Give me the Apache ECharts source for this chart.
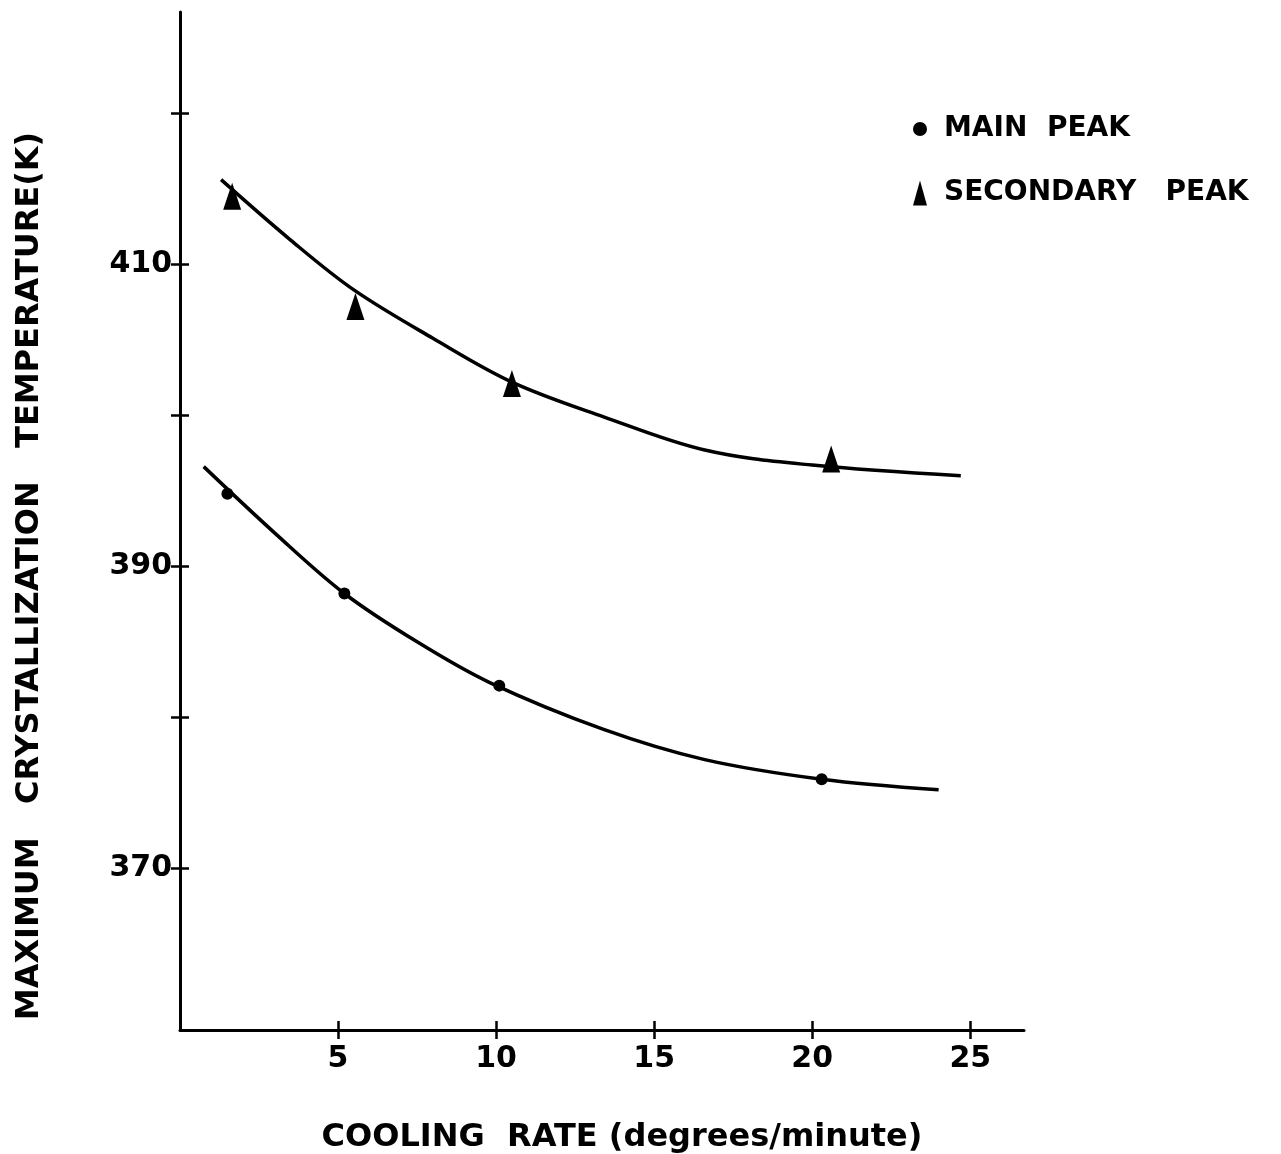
<!DOCTYPE html>
<html>
<head>
<meta charset="utf-8">
<title>Crystallization temperature vs cooling rate</title>
<style>
html,body{margin:0;padding:0;background:#fff;}
#chart{width:1281px;height:1154px;}
</style>
</head>
<body>
<div id="chart"></div>
<script src="https://cdn.jsdelivr.net/npm/echarts@6/dist/echarts.min.js"></script>
<script>
// measured points
var mainX = [1.5, 5.2, 10.1, 20.3];
var mainY = [394.8, 388.2, 382.1, 375.9];
var secX = [1.65, 5.55, 10.5, 20.6];
var secY = [414.5, 407.2, 402.1, 397.1];
// hand drawn fit curves
var mainCurveX = [0.75, 3.0, 5.2, 7.5, 9.8, 13.4, 16.6, 20.3, 24.0];
var mainCurveY = [396.6, 392.2, 388.2, 385.0, 382.3, 379.2, 377.2, 375.9, 375.2];
var secCurveX = [1.3, 3.5, 5.5, 8.0, 10.5, 13.4, 16.6, 20.0, 24.7];
var secCurveY = [415.6, 411.6, 408.3, 405.1, 402.2, 399.9, 397.7, 396.7, 396.0];
var xTicks = [5, 10, 15, 20, 25];
var yTicks = [370, 380, 390, 400, 410, 420];
var yLabels = [370, 390, 410];

function pairs(xs, ys){
    var out = [];
    for (var i = 0; i < xs.length; i++) out.push([xs[i], ys[i]]);
    return out;
}

var font = '"DejaVu Sans", Verdana, sans-serif';
var chart = echarts.init(document.getElementById('chart'));

var W = 1281, H = 1154;
var gridBox = {left: 180, right: 257, top: 12, bottom: 124, containLabel: false, outerBoundsMode: 'none'};
var plotW = W - gridBox.left - gridBox.right;
var plotH = H - gridBox.top - gridBox.bottom;
var tickStyle = {width: 2.5, color: '#000'};
var labelStyle = {color: '#000', fontFamily: font, fontWeight: 'bold', fontSize: 30};

chart.setOption({
    animation: false,
    backgroundColor: '#fff',
    grid: gridBox,
    legend: {
        orient: 'vertical',
        left: 908,
        top: 110,
        itemGap: 36,
        itemWidth: 14,
        itemHeight: 25,
        textStyle: {fontFamily: font, fontWeight: 'bold', fontSize: 28, color: '#000', padding: [0, 0, 0, 12]},
        data: [
            {name: 'MAIN  PEAK', icon: 'circle', itemStyle: {color: '#000', opacity: 1}},
            {name: 'SECONDARY   PEAK', icon: 'triangle', itemStyle: {color: '#000', opacity: 1}}
        ]
    },
    xAxis: [{
        type: 'value', min: 0, max: 26.7,
        axisLine: {show: true, onZero: false, lineStyle: {color: '#000', width: 3}},
        splitLine: {show: false},
        axisTick: {length: 9, lineStyle: tickStyle, customValues: xTicks},
        axisLabel: Object.assign({customValues: xTicks, margin: 14}, labelStyle),
        name: 'COOLING  RATE (degrees/minute)',
        nameLocation: 'middle',
        nameGap: 92,
        nameTextStyle: {color: '#000', fontFamily: font, fontWeight: 'bold', fontSize: 32, padding: [0, 0, 0, 40]}
    }, {
        // upper half of the cross ticks: a top axis pulled down onto the bottom edge
        type: 'value', min: 0, max: 26.7, position: 'top', offset: -plotH,
        axisLine: {show: false, onZero: false},
        splitLine: {show: false},
        axisTick: {show: true, length: 9, lineStyle: tickStyle, customValues: xTicks},
        axisLabel: {show: false}
    }],
    yAxis: [{
        type: 'value', min: 359.3, max: 426.7,
        axisLine: {show: true, onZero: false, lineStyle: {color: '#000', width: 3}},
        splitLine: {show: false},
        axisTick: {length: 9, lineStyle: tickStyle, customValues: yTicks},
        axisLabel: Object.assign({customValues: yLabels, margin: 8}, labelStyle),
        name: 'MAXIMUM   CRYSTALLIZATION   TEMPERATURE(K)',
        nameLocation: 'middle',
        nameGap: 134,
        nameRotate: 90,
        nameTextStyle: {color: '#000', fontFamily: font, fontWeight: 'bold', fontSize: 32, padding: [0, 110, 0, 0]}
    }, {
        // right half of the cross ticks: a right axis pulled over onto the left edge
        type: 'value', min: 359.3, max: 426.7, position: 'right', offset: -plotW,
        axisLine: {show: false, onZero: false},
        splitLine: {show: false},
        axisTick: {show: true, length: 9, lineStyle: tickStyle, customValues: yTicks},
        axisLabel: {show: false}
    }],
    series: [
        {
            name: 'main curve', type: 'line', smooth: 0.35, showSymbol: false,
            lineStyle: {color: '#000', width: 3.5},
            data: pairs(mainCurveX, mainCurveY)
        },
        {
            name: 'secondary curve', type: 'line', smooth: 0.35, showSymbol: false,
            lineStyle: {color: '#000', width: 3.5},
            data: pairs(secCurveX, secCurveY)
        },
        {
            name: 'MAIN  PEAK', type: 'scatter', symbol: 'circle', symbolSize: 12,
            itemStyle: {color: '#000', opacity: 1},
            data: pairs(mainX, mainY)
        },
        {
            name: 'SECONDARY   PEAK', type: 'scatter', symbol: 'triangle', symbolSize: [18, 27],
            itemStyle: {color: '#000', opacity: 1},
            data: pairs(secX, secY)
        },
        {
            name: 'ticks', type: 'scatter', xAxisIndex: 1, yAxisIndex: 1,
            symbolSize: 0, data: []
        }
    ]
});
</script>
</body>
</html>
